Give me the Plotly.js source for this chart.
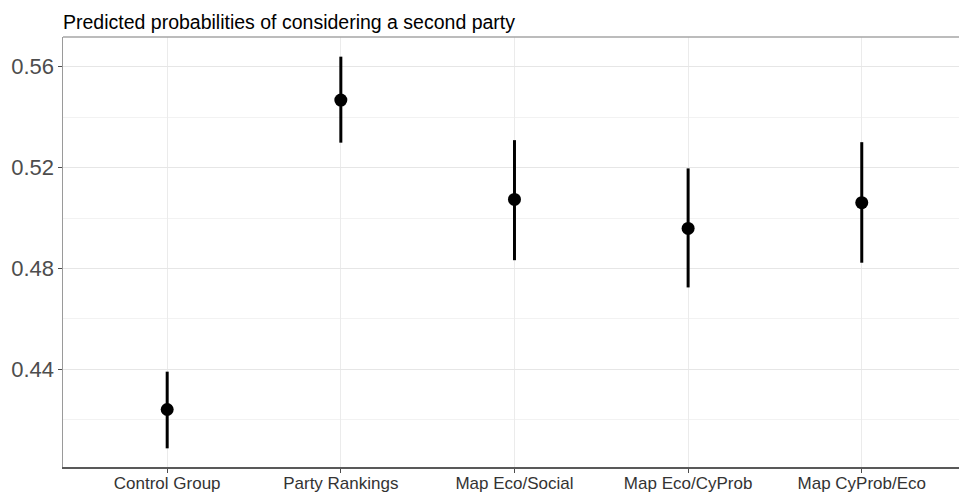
<!DOCTYPE html>
<html>
<head>
<meta charset="utf-8">
<script src="https://cdn.plot.ly/plotly-3.0.1.min.js"></script>
<style>
  html, body { margin: 0; padding: 0; background: #ffffff; }
  #chart { width: 959px; height: 494px; }
</style>
</head>
<body>
<div id="chart"></div>
<script>
// Data
const categories = ["Control Group", "Party Rankings", "Map Eco/Social", "Map Eco/CyProb", "Map CyProb/Eco"];
const estimates  = [0.4241, 0.5468, 0.5074, 0.4959, 0.5061];
const lowerCI    = [0.4087, 0.5299, 0.4833, 0.4725, 0.4823];
const upperCI    = [0.4391, 0.5640, 0.5309, 0.5197, 0.5301];
const yTickVals  = [0.44, 0.48, 0.52, 0.56];
const yTickText  = ["0.44", "0.48", "0.52", "0.56"];
const yMinorVals = [0.42, 0.46, 0.50, 0.54];
const chartTitle = "Predicted probabilities of considering a second party";

const plusErr  = estimates.map((v, i) => upperCI[i] - v);
const minusErr = estimates.map((v, i) => v - lowerCI[i]);

const FONT = "Liberation Sans, Arial, Helvetica, sans-serif";

const trace = {
  type: "scatter",
  mode: "markers",
  x: categories,
  y: estimates,
  marker: { color: "#000000", size: 13 },
  error_y: {
    type: "data",
    symmetric: false,
    array: plusErr,
    arrayminus: minusErr,
    color: "#000000",
    thickness: 3,
    width: 0
  },
  hoverinfo: "x+y",
  showlegend: false
};

const layout = {
  width: 959,
  height: 494,
  paper_bgcolor: "#ffffff",
  plot_bgcolor: "#ffffff",
  margin: { l: 63, r: 0, t: 37, b: 27, pad: 0 },
  font: { family: FONT, color: "#4d4d4d" },
  title: {
    text: chartTitle,
    font: { family: FONT, size: 19.5, color: "#000000" },
    x: 0, xref: "paper", xanchor: "left",
    y: 1 - 22 / 494, yref: "container", yanchor: "middle"
  },
  xaxis: {
    type: "category",
    range: [-0.6, 4.56],
    showgrid: true,
    gridcolor: "#ebebeb",
    gridwidth: 1,
    zeroline: false,
    showline: true,
    linecolor: "#595959",
    linewidth: 1.5,
    mirror: false,
    ticks: "outside",
    ticklen: 4,
    tickwidth: 1,
    tickcolor: "#4d4d4d",
    tickfont: { family: FONT, size: 17, color: "#333333" },
    ticklabelstandoff: -4
  },
  yaxis: {
    range: [0.4013, 0.5718],
    tickmode: "array",
    tickvals: yTickVals,
    ticktext: yTickText,
    showgrid: true,
    gridcolor: "#e6e6e6",
    gridwidth: 1.2,
    zeroline: false,
    showline: true,
    linecolor: "#9a9a9a",
    linewidth: 1.5,
    mirror: false,
    ticks: "outside",
    ticklen: 4,
    tickwidth: 1,
    tickcolor: "#4d4d4d",
    tickfont: { family: FONT, size: 22, color: "#4d4d4d" },
    ticklabelstandoff: -1,
    minor: {
      tickmode: "array",
      tickvals: yMinorVals,
      showgrid: true,
      gridcolor: "#f2f2f2",
      gridwidth: 1,
      ticks: ""
    }
  },
  shapes: [
    {
      type: "line", xref: "paper", yref: "paper",
      x0: 0, x1: 1, y0: 1, y1: 1,
      line: { color: "#a6a6a6", width: 1.5 }
    }
  ]
};

Plotly.newPlot("chart", [trace], layout, { displayModeBar: false, staticPlot: true });
</script>
</body>
</html>
